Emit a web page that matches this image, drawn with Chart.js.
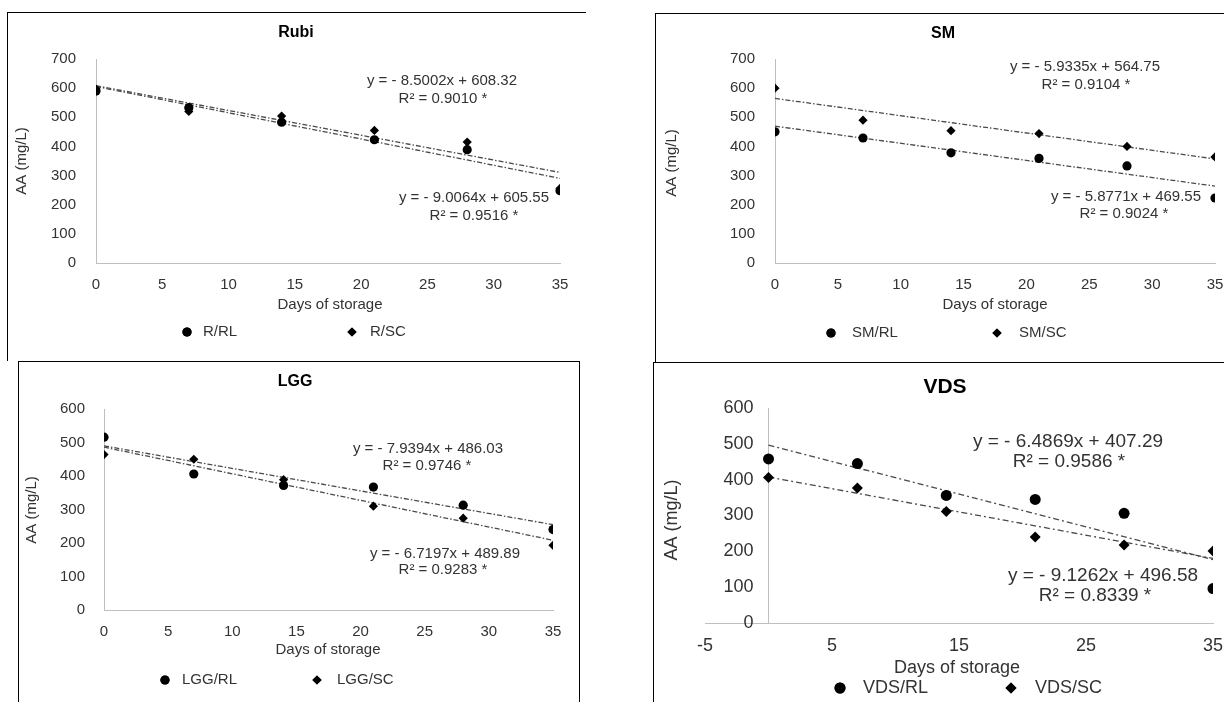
<!DOCTYPE html>
<html>
<head>
<meta charset="utf-8">
<script src="https://cdn.jsdelivr.net/npm/chart.js@4.4.1/dist/chart.umd.min.js"></script>
<style>
  body { margin: 0; background: #fff; width: 1224px; height: 702px; position: relative; overflow: hidden; }
  .frame { position: absolute; border-left: 1px solid #000; border-top: 1px solid #000; }
  canvas { position: absolute; }
</style>
</head>
<body>
<div class="frame" style="left:7px;top:12px;width:578px;height:348px"></div>
<div class="frame" style="left:655px;top:13px;width:569px;height:349px"></div>
<div class="frame" style="left:18px;top:361px;width:560px;height:341px;border-right:1px solid #000"></div>
<div class="frame" style="left:653px;top:362px;width:571px;height:340px"></div>
<canvas id="rubi"></canvas>
<canvas id="sm"></canvas>
<canvas id="lgg"></canvas>
<canvas id="vds"></canvas>
<script>
// storage days (x) and trendline end points
const days = [0, 7, 14, 21, 28, 35];
const trendDays = [0, 35];

// Rubi
const rubiRL = [590, 533, 483, 423, 389, 248];
const rubiSC = [597, 520, 504, 455, 415, 256];
const rubiTrendRL = [605.55, 290.33];   // y = -9.0064x + 605.55
const rubiTrendSC = [608.32, 310.81];   // y = -8.5002x + 608.32
const rubiEquations = ['y = - 8.5002x + 608.32', 'R² = 0.9010 *', 'y = - 9.0064x + 605.55', 'R² = 0.9516 *'];

// SM
const smRL = [450, 429, 378, 359, 333, 223];
const smSC = [600, 490, 454, 444, 400, 364];
const smTrendRL = [469.55, 263.85];     // y = -5.8771x + 469.55
const smTrendSC = [564.75, 357.08];     // y = -5.9335x + 564.75
const smEquations = ['y = - 5.9335x + 564.75', 'R² = 0.9104 *', 'y = - 5.8771x + 469.55', 'R² = 0.9024 *'];

// LGG
const lggRL = [516, 406, 372, 367, 313, 240];
const lggSC = [464, 450, 389, 310, 274, 193];
const lggTrendRL = [489.89, 254.70];    // y = -6.7197x + 489.89
const lggTrendSC = [486.03, 208.15];    // y = -7.9394x + 486.03
const lggEquations = ['y = - 7.9394x + 486.03', 'R² = 0.9746 *', 'y = - 6.7197x + 489.89', 'R² = 0.9283 *'];

// VDS
const vdsRL = [458, 445, 356, 345, 306, 96];
const vdsSC = [406, 377, 311, 240, 218, 201];
const vdsTrendRL = [496.58, 177.16];    // y = -9.1262x + 496.58
const vdsTrendSC = [407.29, 180.25];    // y = -6.4869x + 407.29
const vdsEquations = ['y = - 6.4869x + 407.29', 'R² = 0.9586 *', 'y = - 9.1262x + 496.58', 'R² = 0.8339 *'];

const FONT = '"Liberation Sans", Arial, sans-serif';
const INK = '#333333';
Chart.defaults.font.family = FONT;

// page-coordinate layout of each panel (canvases run past the frames so tick labels have room)
const panels = [
  {
    id: 'rubi', title: 'Rubi', names: ['R/RL', 'R/SC'],
    rl: rubiRL, sc: rubiSC, trends: [rubiTrendRL, rubiTrendSC], eqs: rubiEquations,
    canvas: { left: 8, top: 13, width: 640, height: 345 },
    area: { left: 96, top: 59, right: 560, bottom: 263 },
    xMin: 0, xStep: 5, yMax: 700, size: 15, eqSize: 15, titleSize: 16, dot: 4.6, dia: 4.6,
    yPad: 12, xPad: 5,
    titleAt: [296, 33], xTitleAt: [330, 305], yTitleAt: [22, 161],
    eqAt: [[442, 81], [443, 99], [474, 198], [474, 216]],
    legendY: 332, legendAt: [[187, 203], [352, 370]]
  },
  {
    id: 'sm', title: 'SM', names: ['SM/RL', 'SM/SC'],
    rl: smRL, sc: smSC, trends: [smTrendRL, smTrendSC], eqs: smEquations,
    canvas: { left: 656, top: 14, width: 620, height: 341 },
    area: { left: 775, top: 59, right: 1215, bottom: 263 },
    xMin: 0, xStep: 5, yMax: 700, size: 15, eqSize: 15, titleSize: 16, dot: 4.6, dia: 4.6,
    yPad: 12, xPad: 5,
    titleAt: [943, 34], xTitleAt: [995, 305], yTitleAt: [672, 163],
    eqAt: [[1085, 67], [1086, 85], [1126, 197], [1124, 214]],
    legendY: 333, legendAt: [[831, 852], [997, 1019]]
  },
  {
    id: 'lgg', title: 'LGG', names: ['LGG/RL', 'LGG/SC'],
    rl: lggRL, sc: lggSC, trends: [lggTrendRL, lggTrendSC], eqs: lggEquations,
    canvas: { left: 19, top: 362, width: 620, height: 340 },
    area: { left: 104, top: 409, right: 553, bottom: 610 },
    xMin: 0, xStep: 5, yMax: 600, size: 15, eqSize: 15, titleSize: 16, dot: 4.6, dia: 4.6,
    yPad: 11, xPad: 5,
    titleAt: [295, 382], xTitleAt: [328, 650], yTitleAt: [32, 510],
    eqAt: [[428, 449], [427, 466], [445, 554], [443, 570]],
    legendY: 680, legendAt: [[165, 182], [317, 337]]
  },
  {
    id: 'vds', title: 'VDS', names: ['VDS/RL', 'VDS/SC'],
    rl: vdsRL, sc: vdsSC, trends: [vdsTrendRL, vdsTrendSC], eqs: vdsEquations,
    canvas: { left: 654, top: 363, width: 620, height: 339 },
    area: { left: 705, top: 408, right: 1213, bottom: 623 },
    xMin: -5, xStep: 10, yMax: 600, size: 18, eqSize: 19, titleSize: 21, dot: 5.5, dia: 5.5,
    yPad: 15, xPad: 4, yAt: { x: 0 },
    titleAt: [945, 387], xTitleAt: [957, 668], yTitleAt: [672, 520],
    eqAt: [[1068, 442], [1069, 462], [1103, 576], [1095, 596]],
    legendY: 688, legendAt: [[840, 863], [1011, 1035]]
  }
];

function textLayer(p) {
  const ox = p.canvas.left, oy = p.canvas.top;
  return {
    id: 'textLayer',
    afterDraw(chart) {
      const ctx = chart.ctx;
      ctx.save();
      ctx.textAlign = 'center';
      ctx.textBaseline = 'middle';
      ctx.fillStyle = '#000';
      ctx.font = 'bold ' + p.titleSize + 'px ' + FONT;
      ctx.fillText(p.title, p.titleAt[0] - ox, p.titleAt[1] - oy);

      ctx.fillStyle = INK;
      ctx.font = p.size + 'px ' + FONT;
      ctx.fillText('Days of storage', p.xTitleAt[0] - ox, p.xTitleAt[1] - oy);
      ctx.save();
      ctx.translate(p.yTitleAt[0] - ox, p.yTitleAt[1] - oy);
      ctx.rotate(-Math.PI / 2);
      ctx.fillText('AA (mg/L)', 0, 0);
      ctx.restore();

      ctx.font = p.eqSize + 'px ' + FONT;
      p.eqs.forEach((t, i) => ctx.fillText(t, p.eqAt[i][0] - ox, p.eqAt[i][1] - oy));

      // legend
      ctx.font = p.size + 'px ' + FONT;
      const ly = p.legendY - oy;
      p.legendAt.forEach((pos, i) => {
        const ds = chart.data.datasets[i];
        ctx.fillStyle = '#000';
        Chart.helpers.drawPoint(ctx, { pointStyle: ds.pointStyle, radius: i === 0 ? p.dot : p.dia, rotation: 0, borderWidth: 0 }, pos[0] - ox, ly);
        ctx.fill();
        ctx.fillStyle = INK;
        ctx.textAlign = 'left';
        ctx.fillText(ds.label, pos[1] - ox, ly);
      });
      ctx.restore();
    }
  };
}

function buildChart(p) {
  const cv = document.getElementById(p.id);
  cv.width = p.canvas.width;
  cv.height = p.canvas.height;
  cv.style.left = p.canvas.left + 'px';
  cv.style.top = p.canvas.top + 'px';
  const pts = ys => days.map((d, i) => ({ x: d, y: ys[i] }));
  const line = ys => trendDays.map((d, i) => ({ x: d, y: ys[i] }));
  const trendStyle = {
    showLine: true, pointRadius: 0, borderColor: '#4a4a4a', borderWidth: 1.3,
    borderDash: p.size > 15 ? [6, 3, 2, 3] : [5, 2, 1.5, 2], fill: false
  };
  const tickFont = { size: p.size, family: FONT };
  // a y axis pinned to x = 0 ignores ticks.padding, so the gap is made with trailing spaces
  const yLabel = p.yAt ? (v => v + '   ') : (v => String(v));
  const chart = new Chart(cv, {
    type: 'scatter',
    data: {
      datasets: [
        { label: p.names[0], data: pts(p.rl), pointStyle: 'circle', pointRadius: p.dot, backgroundColor: '#000', borderWidth: 0 },
        { label: p.names[1], data: pts(p.sc), pointStyle: 'rectRot', pointRadius: p.dia, backgroundColor: '#000', borderWidth: 0 },
        Object.assign({ label: 'trend RL', data: line(p.trends[0]) }, trendStyle),
        Object.assign({ label: 'trend SC', data: line(p.trends[1]) }, trendStyle)
      ]
    },
    options: {
      responsive: false,
      animation: false,
      events: [],
      layout: { padding: { left: 0, top: 0, right: 0, bottom: 0 } },
      plugins: { legend: { display: false }, title: { display: false }, tooltip: { enabled: false } },
      scales: {
        x: {
          type: 'linear', min: p.xMin, max: 35,
          grid: { display: false },
          border: { color: '#bfbfbf', width: 1 },
          ticks: { stepSize: p.xStep, color: INK, font: tickFont, padding: p.xPad, maxRotation: 0, autoSkip: false }
        },
        y: {
          type: 'linear', min: 0, max: p.yMax,
          position: p.yAt || 'left',
          grid: { display: false },
          border: { color: '#bfbfbf', width: 1 },
          ticks: { stepSize: 100, color: INK, font: tickFont, padding: p.yPad, callback: yLabel }
        }
      }
    },
    plugins: [textLayer(p)]
  });

  // nudge the layout padding so the plot area sits where the reference has it
  for (let k = 0; k < 4; k++) {
    const a = chart.chartArea;
    const pad = chart.options.layout.padding;
    pad.left += (p.area.left - p.canvas.left) - a.left;
    pad.top += (p.area.top - p.canvas.top) - a.top;
    pad.right += a.right - (p.area.right - p.canvas.left);
    pad.bottom += a.bottom - (p.area.bottom - p.canvas.top);
    chart.update('none');
  }
  return chart;
}

panels.forEach(buildChart);
</script>
</body>
</html>
